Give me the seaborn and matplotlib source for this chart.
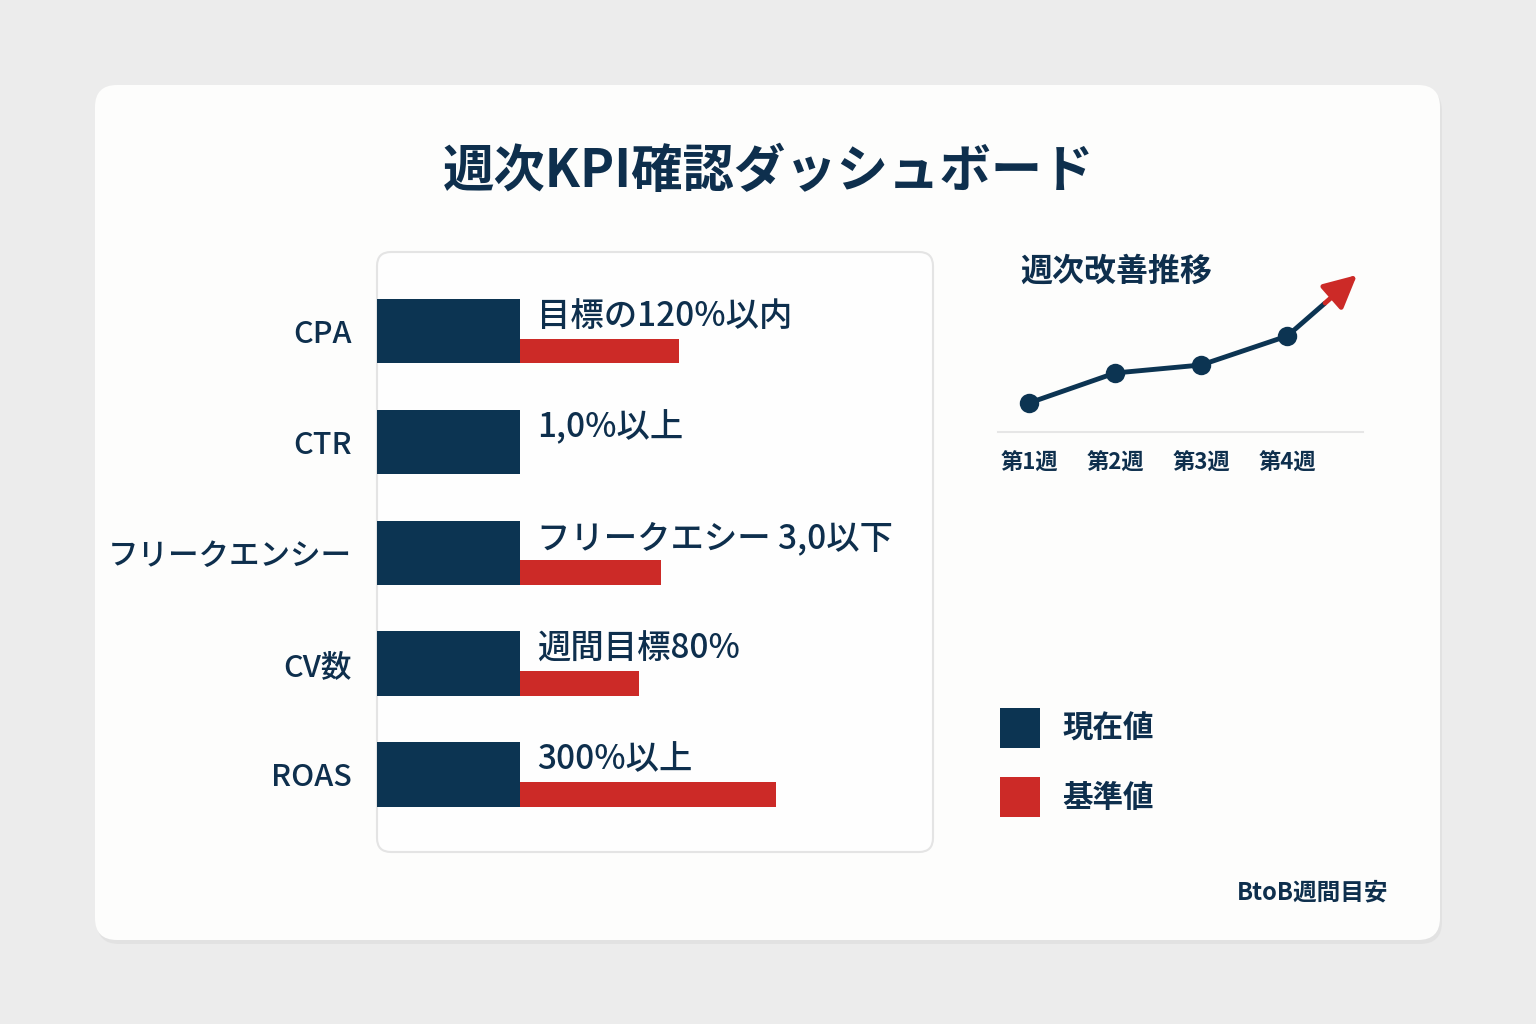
import numpy as np
import matplotlib
matplotlib.use("Agg")
import matplotlib.pyplot as plt
import seaborn as sns
from matplotlib.patches import FancyBboxPatch, Patch

sns.set_theme(style="white")
plt.rcParams['font.family'] = ['Noto Sans CJK JP', 'DejaVu Sans']

# データ
metrics = ["CPA", "CTR", "フリークエンシー", "CV数", "ROAS"]
current = [50, 50, 50, 50, 50]           # 現在値
baseline = [55.6, 0, 49.3, 41.6, 89.5]   # 基準値
notes = ["目標の120%以内", "1,0%以上", "フリークエシー 3,0以下", "週間目標80%", "300%以上"]

weeks = ["第1週", "第2週", "第3週", "第4週"]
week_pos = [1, 2, 3, 4]
week_vals = [29, 59, 67, 96]
trend_x = [4, 4.44, 4.81]
trend_y = [96, 129, 157]

navy = "#0c3452"
txt = "#0e2f4d"
red = "#cc2a27"

fig = plt.figure(figsize=(15.36, 10.24), dpi=100)
fig.patch.set_facecolor("#ececec")

# 背景カード
bg = fig.add_axes([0, 0, 1, 1])
bg.set_xlim(0, 1536)
bg.set_ylim(1024, 0)
bg.axis("off")
bg.add_patch(FancyBboxPatch((97, 89), 1345, 855, boxstyle="round,pad=0,rounding_size=22",
                            fc="#dcdcdc", ec="none", alpha=0.6))
bg.add_patch(FancyBboxPatch((95, 85), 1345, 855, boxstyle="round,pad=0,rounding_size=22",
                            fc="#fdfdfc", ec="none"))
bg.add_patch(FancyBboxPatch((377, 252), 556, 600, boxstyle="round,pad=0,rounding_size=14",
                            fc="#fefefe", ec="#e4e4e4", lw=1.5))

fig.text(769 / 1536, 1 - 172 / 1024, "週次KPI確認ダッシュボード", ha="center", va="center",
         fontsize=37, fontweight="bold", color=txt)

# 棒グラフ
ax = fig.add_axes([377 / 1536, 1 - 852 / 1024, 556 / 1536, 600 / 1024])
ax.patch.set_alpha(0)
sns.barplot(x=current, y=metrics, orient="h", color=navy, saturation=1, width=0.58,
            edgecolor="none", ax=ax)
ax.barh(np.arange(len(metrics)) + 0.18, baseline, height=0.22, left=current,
        color=red, edgecolor="none")
for i, t in enumerate(notes):
    ax.text(56, i - 0.13, t, ha="left", va="center", fontsize=24, color=txt, fontweight="medium")
ax.set_xlim(0, 194.4)
ax.set_ylim(4.70, -0.713)
ax.set_xticks([])
ax.set_xlabel("")
ax.set_ylabel("")
ax.tick_params(axis="y", length=0, pad=18, labelsize=22, labelcolor=txt)
for lab in ax.get_yticklabels():
    lab.set_fontweight("medium")
for s in ax.spines.values():
    s.set_visible(False)

# 折れ線
lx = fig.add_axes([998 / 1536, 1 - 432 / 1024, 365 / 1536, 172 / 1024])
lx.patch.set_alpha(0)
lx.plot(trend_x[:2], trend_y[:2], color=navy, lw=3.5, solid_capstyle="butt")
lx.annotate("", xy=(trend_x[2], trend_y[2]), xytext=(trend_x[1], trend_y[1]),
            arrowprops=dict(arrowstyle="-|>,head_length=1.0,head_width=0.5", color=red,
                            lw=3.5, shrinkA=0, shrinkB=0, mutation_scale=20))
sns.lineplot(x=week_pos, y=week_vals, ax=lx, color=navy, marker="o", markersize=14,
             linewidth=3.5, markeredgewidth=0)
lx.set_xlim(0.64, 4.88)
lx.set_ylim(0, 172)
lx.set_xticks(week_pos, weeks)
lx.set_yticks([])
lx.tick_params(axis="x", length=0, pad=14, labelsize=16, labelcolor=txt)
for lab in lx.get_xticklabels():
    lab.set_fontweight("bold")
for k, s in lx.spines.items():
    s.set_visible(k == "bottom")
lx.spines["bottom"].set_color("#e6e6e6")
lx.spines["bottom"].set_linewidth(1.5)

fig.text(1020 / 1536, 1 - 272 / 1024, "週次改善推移", ha="left", va="center",
         fontsize=23, fontweight="bold", color=txt)

# 凡例
handles = [Patch(facecolor=navy, edgecolor="none"), Patch(facecolor=red, edgecolor="none")]
leg = fig.legend(handles, ["現在値", "基準値"], loc="upper left",
                 bbox_to_anchor=(1000 / 1536, 1 - 708 / 1024), frameon=False,
                 prop=dict(size=22, weight="bold", family=["Noto Sans CJK JP", "DejaVu Sans"]),
                 handlelength=1.3, handleheight=1.63, labelspacing=0.95, handletextpad=0.75,
                 borderaxespad=0, borderpad=0)
for t in leg.get_texts():
    t.set_color(txt)

fig.text(1388 / 1536, 1 - 892 / 1024, "BtoB週間目安", ha="right", va="center",
         fontsize=17, fontweight="bold", color=txt)

fig.savefig("out.png", dpi=100, facecolor=fig.get_facecolor())
